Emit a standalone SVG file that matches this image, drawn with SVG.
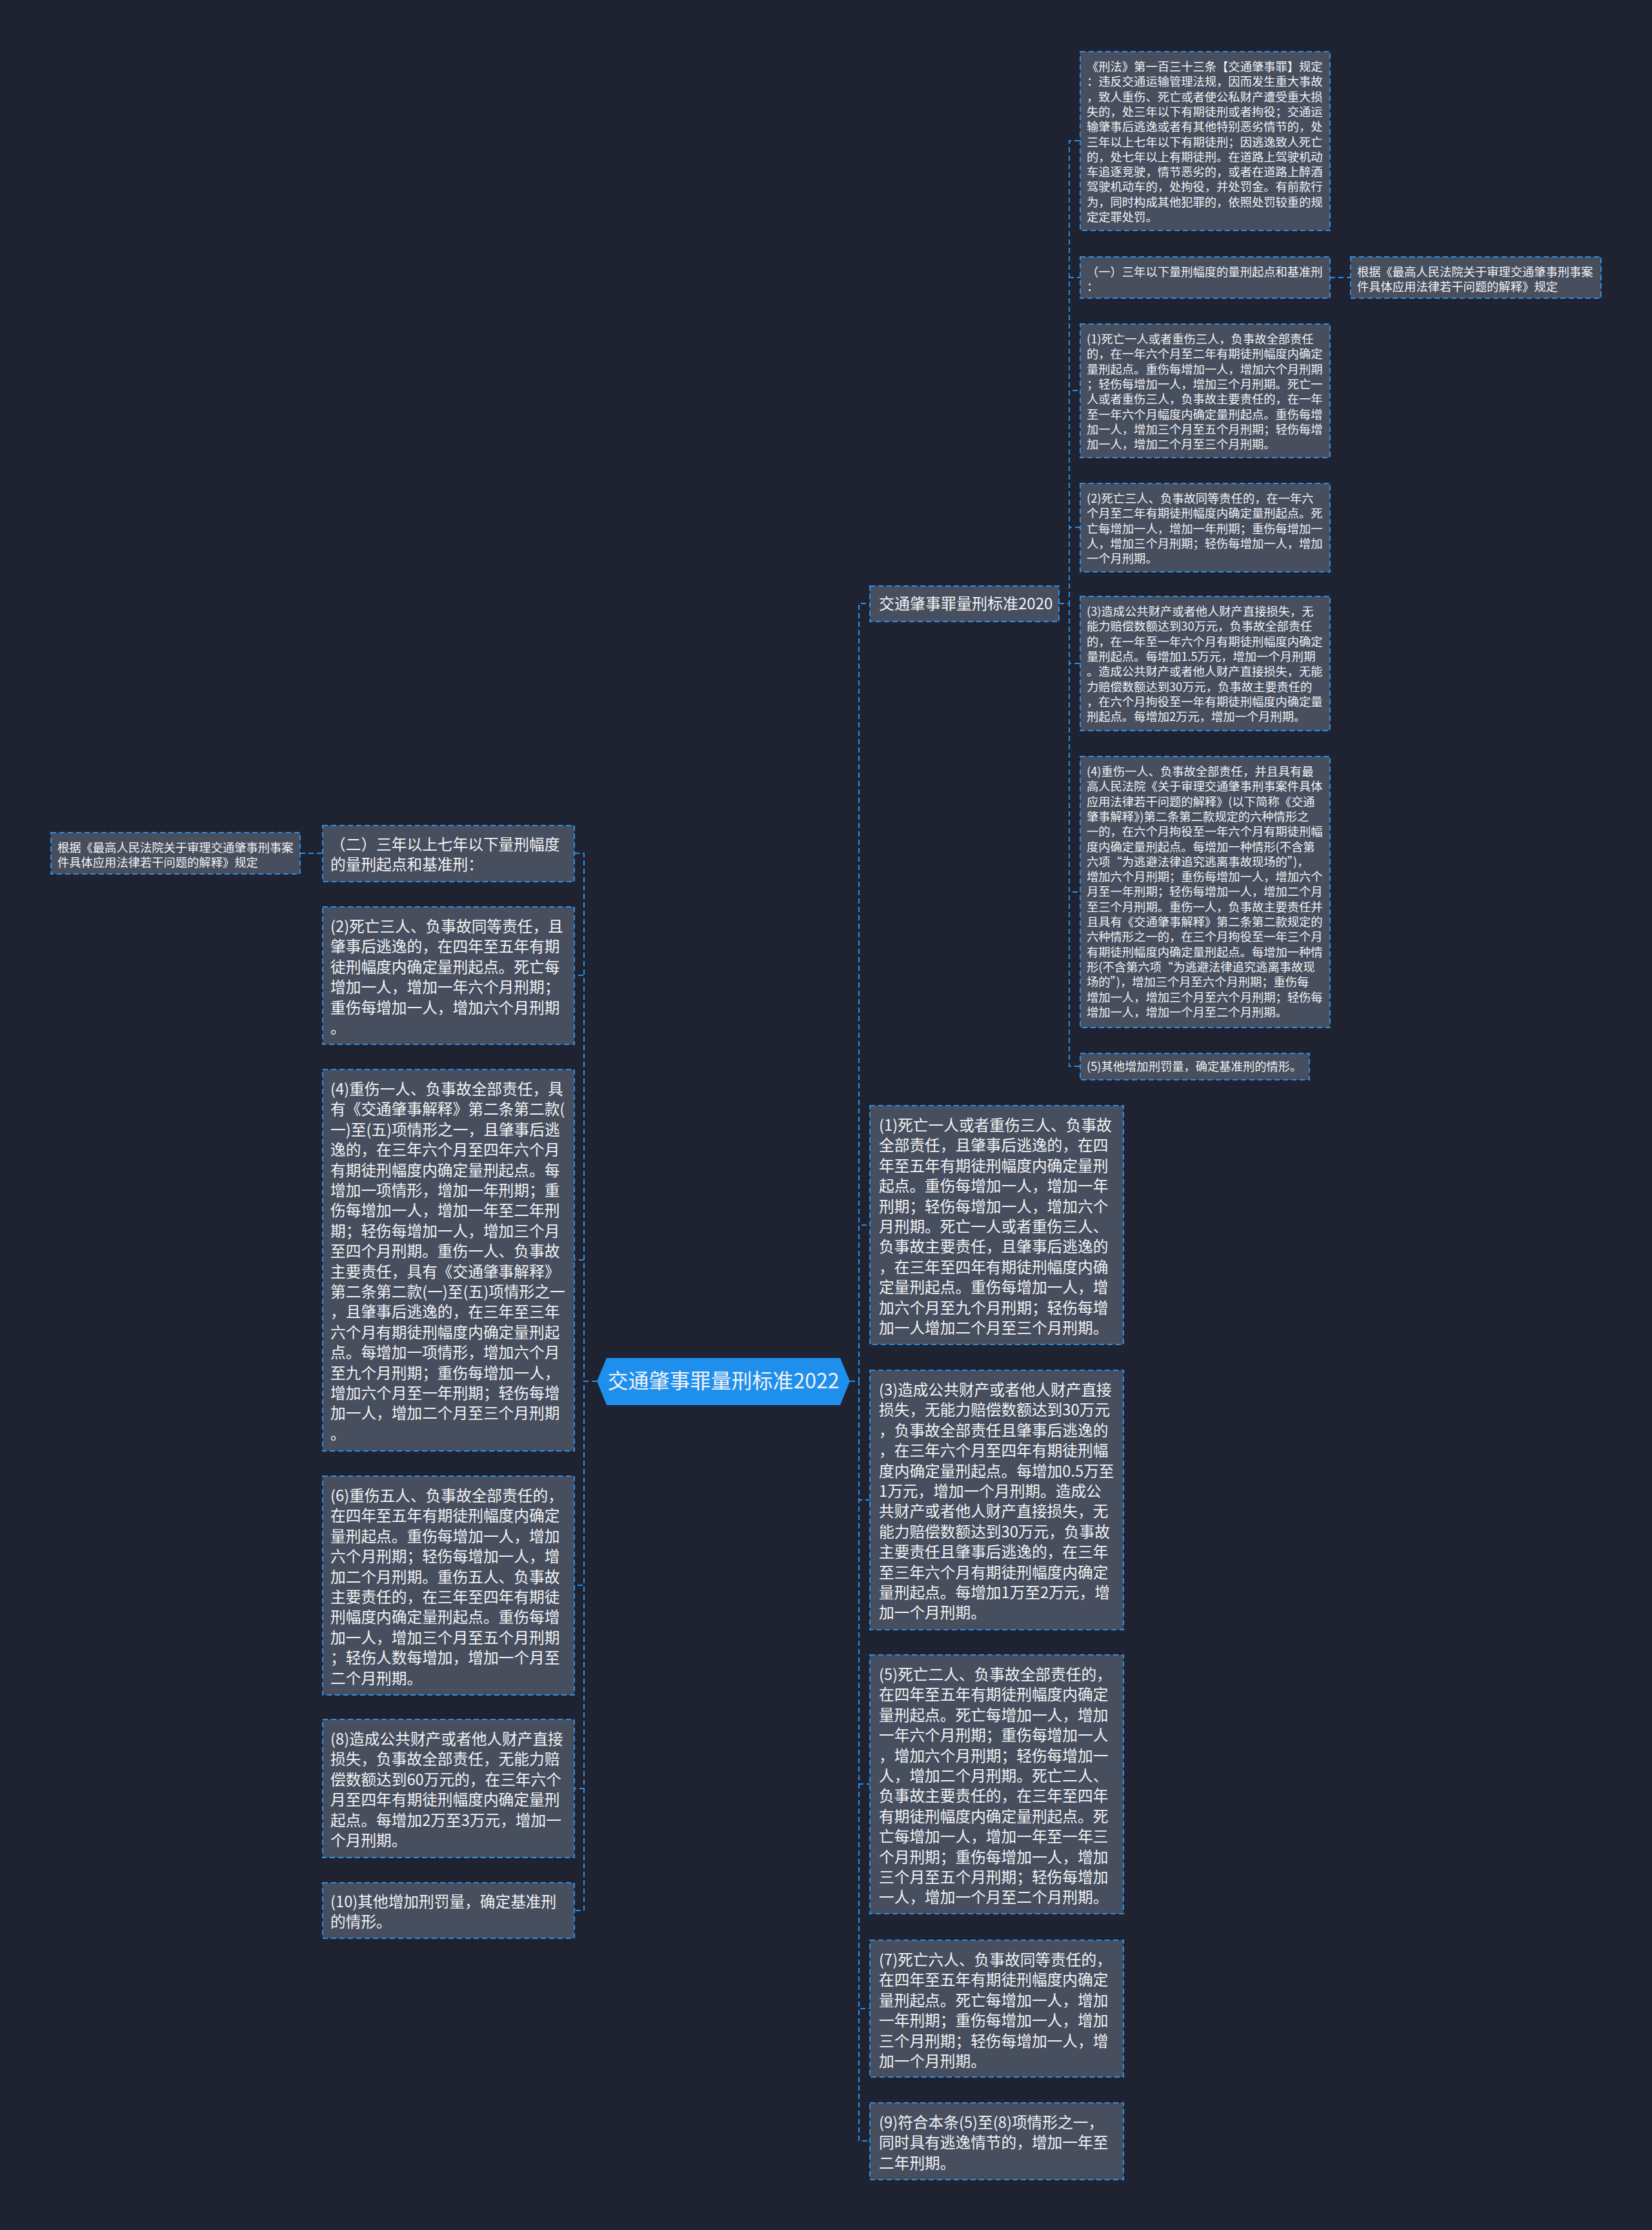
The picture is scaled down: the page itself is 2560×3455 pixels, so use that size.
<svg xmlns="http://www.w3.org/2000/svg" width="2560" height="3455" viewBox="0 0 2560 3455">
<style>
.bg{fill:#1f2230}
.box{fill:#474e5e;stroke:#2a8ee6;stroke-width:2;stroke-dasharray:8 5}
.t{font-family:"Noto Sans CJK SC","Noto Sans",sans-serif;fill:#f2f3f5}
.s{font-size:18.3px}
.m{font-size:23.7px}
.link{fill:none;stroke:#2a8ee6;stroke-width:2;stroke-dasharray:8 5}
.root{fill:#1f8fee}
</style>
<rect class="bg" x="0" y="0" width="2560" height="3455"/>

<g id="connectors">
<path class="link" d="M1317 2140H1331V935H1348"/>
<path class="link" d="M1317 2140H1331V1898H1348"/>
<path class="link" d="M1317 2140H1331V2324H1348"/>
<path class="link" d="M1317 2140H1331V2764H1348"/>
<path class="link" d="M1317 2140H1331V3112H1348"/>
<path class="link" d="M1317 2140H1331V3317H1348"/>
<path class="link" d="M925 2140H905V1322H890"/>
<path class="link" d="M925 2140H905V1511H890"/>
<path class="link" d="M925 2140H905V1952H890"/>
<path class="link" d="M925 2140H905V2456H890"/>
<path class="link" d="M925 2140H905V2771H890"/>
<path class="link" d="M925 2140H905V2960H890"/>
<path class="link" d="M499 1322H465"/>
<path class="link" d="M1641 935H1657V218H1674"/>
<path class="link" d="M1641 935H1657V430H1674"/>
<path class="link" d="M1641 935H1657V605H1674"/>
<path class="link" d="M1641 935H1657V817H1674"/>
<path class="link" d="M1641 935H1657V1028H1674"/>
<path class="link" d="M1641 935H1657V1382H1674"/>
<path class="link" d="M1641 935H1657V1652H1674"/>
<path class="link" d="M2061 430H2093"/>
</g>

<g id="root">
<path class="root" d="M925 2140L940 2104H1302L1317 2140L1302 2177H940Z"/>
<text class="t" x="1121" y="2151" font-size="32" text-anchor="middle" fill="#ffffff">交通肇事罪量刑标准2022</text>
</g>

<g id="n2020">
<rect class="box" x="1348" y="908" width="293" height="55"/>
<text class="t" x="1362" y="944" font-size="24">交通肇事罪量刑标准2020</text>
</g>

<g id="nXingfa">
<rect class="box" x="1674" y="80" width="387" height="277"/>
<text class="t s" x="1684" y="110">
<tspan x="1684">《刑法》第一百三十三条【交通肇事罪】规定</tspan>
<tspan x="1684" dy="23.3">：违反交通运输管理法规，因而发生重大事故</tspan>
<tspan x="1684" dy="23.3">，致人重伤、死亡或者使公私财产遭受重大损</tspan>
<tspan x="1684" dy="23.3">失的，处三年以下有期徒刑或者拘役；交通运</tspan>
<tspan x="1684" dy="23.3">输肇事后逃逸或者有其他特别恶劣情节的，处</tspan>
<tspan x="1684" dy="23.3">三年以上七年以下有期徒刑；因逃逸致人死亡</tspan>
<tspan x="1684" dy="23.3">的，处七年以上有期徒刑。在道路上驾驶机动</tspan>
<tspan x="1684" dy="23.3">车追逐竞驶，情节恶劣的，或者在道路上醉酒</tspan>
<tspan x="1684" dy="23.3">驾驶机动车的，处拘役，并处罚金。有前款行</tspan>
<tspan x="1684" dy="23.3">为，同时构成其他犯罪的，依照处罚较重的规</tspan>
<tspan x="1684" dy="23.3">定定罪处罚。</tspan>
</text>
</g>

<g id="nYi">
<rect class="box" x="1674" y="398" width="387" height="64"/>
<text class="t s" x="1684" y="428">
<tspan x="1684">（一）三年以下量刑幅度的量刑起点和基准刑</tspan>
<tspan x="1684" dy="23.3">：</tspan>
</text>
</g>

<g id="nGenjuR">
<rect class="box" x="2093" y="398" width="388" height="64"/>
<text class="t s" x="2103" y="428">
<tspan x="2103">根据《最高人民法院关于审理交通肇事刑事案</tspan>
<tspan x="2103" dy="23.3">件具体应用法律若干问题的解释》规定</tspan>
</text>
</g>

<g id="nR1">
<rect class="box" x="1674" y="502" width="387" height="207"/>
<text class="t s" x="1684" y="532">
<tspan x="1684">(1)死亡一人或者重伤三人，负事故全部责任</tspan>
<tspan x="1684" dy="23.3">的，在一年六个月至二年有期徒刑幅度内确定</tspan>
<tspan x="1684" dy="23.3">量刑起点。重伤每增加一人，增加六个月刑期</tspan>
<tspan x="1684" dy="23.3">；轻伤每增加一人，增加三个月刑期。死亡一</tspan>
<tspan x="1684" dy="23.3">人或者重伤三人，负事故主要责任的，在一年</tspan>
<tspan x="1684" dy="23.3">至一年六个月幅度内确定量刑起点。重伤每增</tspan>
<tspan x="1684" dy="23.3">加一人，增加三个月至五个月刑期；轻伤每增</tspan>
<tspan x="1684" dy="23.3">加一人，增加二个月至三个月刑期。</tspan>
</text>
</g>

<g id="nR2">
<rect class="box" x="1674" y="749" width="387" height="137"/>
<text class="t s" x="1684" y="779">
<tspan x="1684">(2)死亡三人、负事故同等责任的，在一年六</tspan>
<tspan x="1684" dy="23.3">个月至二年有期徒刑幅度内确定量刑起点。死</tspan>
<tspan x="1684" dy="23.3">亡每增加一人，增加一年刑期；重伤每增加一</tspan>
<tspan x="1684" dy="23.3">人，增加三个月刑期；轻伤每增加一人，增加</tspan>
<tspan x="1684" dy="23.3">一个月刑期。</tspan>
</text>
</g>

<g id="nR3">
<rect class="box" x="1674" y="924" width="387" height="208"/>
<text class="t s" x="1684" y="954">
<tspan x="1684">(3)造成公共财产或者他人财产直接损失，无</tspan>
<tspan x="1684" dy="23.3">能力赔偿数额达到30万元，负事故全部责任</tspan>
<tspan x="1684" dy="23.3">的，在一年至一年六个月有期徒刑幅度内确定</tspan>
<tspan x="1684" dy="23.3">量刑起点。每增加1.5万元，增加一个月刑期</tspan>
<tspan x="1684" dy="23.3">。造成公共财产或者他人财产直接损失，无能</tspan>
<tspan x="1684" dy="23.3">力赔偿数额达到30万元，负事故主要责任的</tspan>
<tspan x="1684" dy="23.3">，在六个月拘役至一年有期徒刑幅度内确定量</tspan>
<tspan x="1684" dy="23.3">刑起点。每增加2万元，增加一个月刑期。</tspan>
</text>
</g>

<g id="nR4">
<rect class="box" x="1674" y="1172" width="387" height="420"/>
<text class="t s" x="1684" y="1202">
<tspan x="1684">(4)重伤一人、负事故全部责任，并且具有最</tspan>
<tspan x="1684" dy="23.3">高人民法院《关于审理交通肇事刑事案件具体</tspan>
<tspan x="1684" dy="23.3">应用法律若干问题的解释》(以下简称《交通</tspan>
<tspan x="1684" dy="23.3">肇事解释》)第二条第二款规定的六种情形之</tspan>
<tspan x="1684" dy="23.3">一的，在六个月拘役至一年六个月有期徒刑幅</tspan>
<tspan x="1684" dy="23.3">度内确定量刑起点。每增加一种情形(不含第</tspan>
<tspan x="1684" dy="23.3">六项“为逃避法律追究逃离事故现场的”)，</tspan>
<tspan x="1684" dy="23.3">增加六个月刑期；重伤每增加一人，增加六个</tspan>
<tspan x="1684" dy="23.3">月至一年刑期；轻伤每增加一人，增加二个月</tspan>
<tspan x="1684" dy="23.3">至三个月刑期。重伤一人，负事故主要责任并</tspan>
<tspan x="1684" dy="23.3">且具有《交通肇事解释》第二条第二款规定的</tspan>
<tspan x="1684" dy="23.3">六种情形之一的，在三个月拘役至一年三个月</tspan>
<tspan x="1684" dy="23.3">有期徒刑幅度内确定量刑起点。每增加一种情</tspan>
<tspan x="1684" dy="23.3">形(不含第六项“为逃避法律追究逃离事故现</tspan>
<tspan x="1684" dy="23.3">场的”)，增加三个月至六个月刑期；重伤每</tspan>
<tspan x="1684" dy="23.3">增加一人，增加三个月至六个月刑期；轻伤每</tspan>
<tspan x="1684" dy="23.3">增加一人，增加一个月至二个月刑期。</tspan>
</text>
</g>

<g id="nR5">
<rect class="box" x="1674" y="1632" width="355" height="41"/>
<text class="t s" x="1684" y="1659">(5)其他增加刑罚量，确定基准刑的情形。</text>
</g>

<g id="nM1">
<rect class="box" x="1348" y="1713" width="393" height="370"/>
<text class="t m" x="1362" y="1752">
<tspan x="1362">(1)死亡一人或者重伤三人、负事故</tspan>
<tspan x="1362" dy="31.4">全部责任，且肇事后逃逸的，在四</tspan>
<tspan x="1362" dy="31.4">年至五年有期徒刑幅度内确定量刑</tspan>
<tspan x="1362" dy="31.4">起点。重伤每增加一人，增加一年</tspan>
<tspan x="1362" dy="31.4">刑期；轻伤每增加一人，增加六个</tspan>
<tspan x="1362" dy="31.4">月刑期。死亡一人或者重伤三人、</tspan>
<tspan x="1362" dy="31.4">负事故主要责任，且肇事后逃逸的</tspan>
<tspan x="1362" dy="31.4">，在三年至四年有期徒刑幅度内确</tspan>
<tspan x="1362" dy="31.4">定量刑起点。重伤每增加一人，增</tspan>
<tspan x="1362" dy="31.4">加六个月至九个月刑期；轻伤每增</tspan>
<tspan x="1362" dy="31.4">加一人增加二个月至三个月刑期。</tspan>
</text>
</g>

<g id="nM3">
<rect class="box" x="1348" y="2123" width="393" height="402"/>
<text class="t m" x="1362" y="2162">
<tspan x="1362">(3)造成公共财产或者他人财产直接</tspan>
<tspan x="1362" dy="31.4">损失，无能力赔偿数额达到30万元</tspan>
<tspan x="1362" dy="31.4">，负事故全部责任且肇事后逃逸的</tspan>
<tspan x="1362" dy="31.4">，在三年六个月至四年有期徒刑幅</tspan>
<tspan x="1362" dy="31.4">度内确定量刑起点。每增加0.5万至</tspan>
<tspan x="1362" dy="31.4">1万元，增加一个月刑期。造成公</tspan>
<tspan x="1362" dy="31.4">共财产或者他人财产直接损失，无</tspan>
<tspan x="1362" dy="31.4">能力赔偿数额达到30万元，负事故</tspan>
<tspan x="1362" dy="31.4">主要责任且肇事后逃逸的，在三年</tspan>
<tspan x="1362" dy="31.4">至三年六个月有期徒刑幅度内确定</tspan>
<tspan x="1362" dy="31.4">量刑起点。每增加1万至2万元，增</tspan>
<tspan x="1362" dy="31.4">加一个月刑期。</tspan>
</text>
</g>

<g id="nM5">
<rect class="box" x="1348" y="2564" width="393" height="401"/>
<text class="t m" x="1362" y="2603">
<tspan x="1362">(5)死亡二人、负事故全部责任的，</tspan>
<tspan x="1362" dy="31.4">在四年至五年有期徒刑幅度内确定</tspan>
<tspan x="1362" dy="31.4">量刑起点。死亡每增加一人，增加</tspan>
<tspan x="1362" dy="31.4">一年六个月刑期；重伤每增加一人</tspan>
<tspan x="1362" dy="31.4">，增加六个月刑期；轻伤每增加一</tspan>
<tspan x="1362" dy="31.4">人，增加二个月刑期。死亡二人、</tspan>
<tspan x="1362" dy="31.4">负事故主要责任的，在三年至四年</tspan>
<tspan x="1362" dy="31.4">有期徒刑幅度内确定量刑起点。死</tspan>
<tspan x="1362" dy="31.4">亡每增加一人，增加一年至一年三</tspan>
<tspan x="1362" dy="31.4">个月刑期；重伤每增加一人，增加</tspan>
<tspan x="1362" dy="31.4">三个月至五个月刑期；轻伤每增加</tspan>
<tspan x="1362" dy="31.4">一人，增加一个月至二个月刑期。</tspan>
</text>
</g>

<g id="nM7">
<rect class="box" x="1348" y="3006" width="393" height="212"/>
<text class="t m" x="1362" y="3045">
<tspan x="1362">(7)死亡六人、负事故同等责任的，</tspan>
<tspan x="1362" dy="31.4">在四年至五年有期徒刑幅度内确定</tspan>
<tspan x="1362" dy="31.4">量刑起点。死亡每增加一人，增加</tspan>
<tspan x="1362" dy="31.4">一年刑期；重伤每增加一人，增加</tspan>
<tspan x="1362" dy="31.4">三个月刑期；轻伤每增加一人，增</tspan>
<tspan x="1362" dy="31.4">加一个月刑期。</tspan>
</text>
</g>

<g id="nM9">
<rect class="box" x="1348" y="3258" width="393" height="119"/>
<text class="t m" x="1362" y="3297">
<tspan x="1362">(9)符合本条(5)至(8)项情形之一，</tspan>
<tspan x="1362" dy="31.4">同时具有逃逸情节的，增加一年至</tspan>
<tspan x="1362" dy="31.4">二年刑期。</tspan>
</text>
</g>

<g id="nL0">
<rect class="box" x="500" y="1279" width="390" height="87"/>
<text class="t m" x="512" y="1317">
<tspan x="512">（二）三年以上七年以下量刑幅度</tspan>
<tspan x="512" dy="31.4">的量刑起点和基准刑：</tspan>
</text>
</g>

<g id="nGenjuL">
<rect class="box" x="79" y="1290" width="386" height="64"/>
<text class="t s" x="89" y="1320">
<tspan x="89">根据《最高人民法院关于审理交通肇事刑事案</tspan>
<tspan x="89" dy="23.3">件具体应用法律若干问题的解释》规定</tspan>
</text>
</g>

<g id="nL2">
<rect class="box" x="500" y="1405" width="390" height="213"/>
<text class="t m" x="512" y="1444">
<tspan x="512">(2)死亡三人、负事故同等责任，且</tspan>
<tspan x="512" dy="31.4">肇事后逃逸的，在四年至五年有期</tspan>
<tspan x="512" dy="31.4">徒刑幅度内确定量刑起点。死亡每</tspan>
<tspan x="512" dy="31.4">增加一人，增加一年六个月刑期；</tspan>
<tspan x="512" dy="31.4">重伤每增加一人，增加六个月刑期</tspan>
<tspan x="512" dy="31.4">。</tspan>
</text>
</g>

<g id="nL4">
<rect class="box" x="500" y="1657" width="390" height="591"/>
<text class="t m" x="512" y="1696">
<tspan x="512">(4)重伤一人、负事故全部责任，具</tspan>
<tspan x="512" dy="31.4">有《交通肇事解释》第二条第二款(</tspan>
<tspan x="512" dy="31.4">一)至(五)项情形之一，且肇事后逃</tspan>
<tspan x="512" dy="31.4">逸的，在三年六个月至四年六个月</tspan>
<tspan x="512" dy="31.4">有期徒刑幅度内确定量刑起点。每</tspan>
<tspan x="512" dy="31.4">增加一项情形，增加一年刑期；重</tspan>
<tspan x="512" dy="31.4">伤每增加一人，增加一年至二年刑</tspan>
<tspan x="512" dy="31.4">期；轻伤每增加一人，增加三个月</tspan>
<tspan x="512" dy="31.4">至四个月刑期。重伤一人、负事故</tspan>
<tspan x="512" dy="31.4">主要责任，具有《交通肇事解释》</tspan>
<tspan x="512" dy="31.4">第二条第二款(一)至(五)项情形之一</tspan>
<tspan x="512" dy="31.4">，且肇事后逃逸的，在三年至三年</tspan>
<tspan x="512" dy="31.4">六个月有期徒刑幅度内确定量刑起</tspan>
<tspan x="512" dy="31.4">点。每增加一项情形，增加六个月</tspan>
<tspan x="512" dy="31.4">至九个月刑期；重伤每增加一人，</tspan>
<tspan x="512" dy="31.4">增加六个月至一年刑期；轻伤每增</tspan>
<tspan x="512" dy="31.4">加一人，增加二个月至三个月刑期</tspan>
<tspan x="512" dy="31.4">。</tspan>
</text>
</g>

<g id="nL6">
<rect class="box" x="500" y="2287" width="390" height="339"/>
<text class="t m" x="512" y="2326">
<tspan x="512">(6)重伤五人、负事故全部责任的，</tspan>
<tspan x="512" dy="31.4">在四年至五年有期徒刑幅度内确定</tspan>
<tspan x="512" dy="31.4">量刑起点。重伤每增加一人，增加</tspan>
<tspan x="512" dy="31.4">六个月刑期；轻伤每增加一人，增</tspan>
<tspan x="512" dy="31.4">加二个月刑期。重伤五人、负事故</tspan>
<tspan x="512" dy="31.4">主要责任的，在三年至四年有期徒</tspan>
<tspan x="512" dy="31.4">刑幅度内确定量刑起点。重伤每增</tspan>
<tspan x="512" dy="31.4">加一人，增加三个月至五个月刑期</tspan>
<tspan x="512" dy="31.4">；轻伤人数每增加，增加一个月至</tspan>
<tspan x="512" dy="31.4">二个月刑期。</tspan>
</text>
</g>

<g id="nL8">
<rect class="box" x="500" y="2664" width="390" height="214"/>
<text class="t m" x="512" y="2703">
<tspan x="512">(8)造成公共财产或者他人财产直接</tspan>
<tspan x="512" dy="31.4">损失，负事故全部责任，无能力赔</tspan>
<tspan x="512" dy="31.4">偿数额达到60万元的，在三年六个</tspan>
<tspan x="512" dy="31.4">月至四年有期徒刑幅度内确定量刑</tspan>
<tspan x="512" dy="31.4">起点。每增加2万至3万元，增加一</tspan>
<tspan x="512" dy="31.4">个月刑期。</tspan>
</text>
</g>

<g id="nL10">
<rect class="box" x="500" y="2917" width="390" height="86"/>
<text class="t m" x="512" y="2955">
<tspan x="512">(10)其他增加刑罚量，确定基准刑</tspan>
<tspan x="512" dy="31.4">的情形。</tspan>
</text>
</g>
</svg>
